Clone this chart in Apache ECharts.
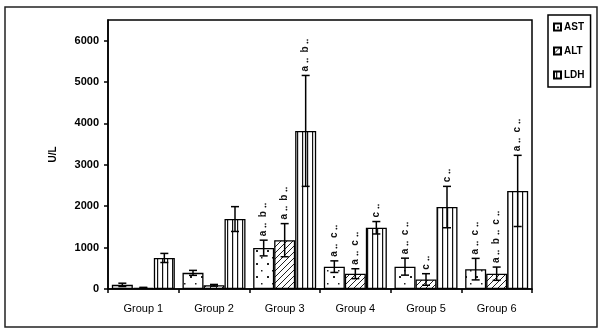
<!DOCTYPE html>
<html>
<head>
<meta charset="utf-8">
<script src="https://cdn.jsdelivr.net/npm/echarts@6/dist/echarts.min.js"></script>
<style>
  html, body { margin: 0; padding: 0; background: #fff; }
  #chart-container { width: 600px; height: 333px; }
</style>
</head>
<body>
<div id="chart-container"></div>
<script>
var groups = ['Group 1', 'Group 2', 'Group 3', 'Group 4', 'Group 5', 'Group 6'];
var yTicks = [0, 1000, 2000, 3000, 4000, 5000, 6000];

var ast = [100, 390, 990, 540, 540, 480];
var astSd = [40, 60, 190, 140, 205, 260];
var alt = [30, 90, 1180, 370, 230, 370];
var altSd = [10, 20, 400, 120, 140, 160];
var ldh = [750, 1690, 3820, 1480, 1980, 2370];
var ldhSd = [110, 300, 1340, 150, 500, 860];

var astMarks = ['', '', 'a ‥  b ‥', 'a ‥  c ‥', 'a ‥  c ‥', 'a ‥  c ‥'];
var altMarks = ['', '', 'a ‥  b ‥', 'a ‥  c ‥', 'c ‥', 'a ‥  b ‥  c ‥'];
var ldhMarks = ['', '', 'a ‥  b ‥', 'c ‥', 'c ‥', 'a ‥  c ‥'];

function pattern(kind) {
    var c = document.createElement('canvas');
    var ctx = c.getContext('2d');
    if (kind === 'dots') {
        c.width = 11; c.height = 13;
        ctx.fillStyle = '#fff'; ctx.fillRect(0, 0, 11, 13);
        ctx.fillStyle = '#222';
        ctx.fillRect(3, 3, 2, 2);
        ctx.fillRect(8, 10, 1.5, 1.5);
    } else if (kind === 'hatch') {
        c.width = 6; c.height = 6;
        ctx.fillStyle = '#fff'; ctx.fillRect(0, 0, 6, 6);
        ctx.strokeStyle = '#222'; ctx.lineWidth = 1;
        ctx.beginPath();
        ctx.moveTo(0, 6); ctx.lineTo(6, 0);
        ctx.moveTo(-1, 1); ctx.lineTo(1, -1);
        ctx.moveTo(5, 7); ctx.lineTo(7, 5);
        ctx.stroke();
    } else {
        c.width = 5; c.height = 4;
        ctx.fillStyle = '#fff'; ctx.fillRect(0, 0, 5, 4);
        ctx.fillStyle = '#111';
        ctx.fillRect(2, 0, 1.2, 4);
    }
    return { image: c, repeat: 'repeat' };
}

var BAR_W = 21;
var font = '"Liberation Sans", Arial, sans-serif';

function errSeries(name, idx, means, sds, marks) {
    var data = means.map(function (m, i) { return [i, m - sds[i], m + sds[i]]; });
    return {
        type: 'custom',
        name: name + ' err',
        z: 5,
        data: data,
        encode: { x: 0, y: [1, 2] },
        renderItem: function (params, api) {
            var lo = api.coord([api.value(0), api.value(1)]);
            var hi = api.coord([api.value(0), api.value(2)]);
            var x = lo[0] + (idx - 1) * BAR_W;
            var cap = 4;
            var st = { stroke: '#000', lineWidth: 1.5 };
            var children = [
                { type: 'line', shape: { x1: x, y1: lo[1], x2: x, y2: hi[1] }, style: st },
                { type: 'line', shape: { x1: x - cap, y1: hi[1], x2: x + cap, y2: hi[1] }, style: st },
                { type: 'line', shape: { x1: x - cap, y1: lo[1], x2: x + cap, y2: lo[1] }, style: st }
            ];
            var txt = marks[params.dataIndex];
            if (txt) {
                children.push({
                    type: 'text',
                    x: x,
                    y: hi[1] - 4,
                    rotation: Math.PI / 2,
                    style: {
                        text: txt,
                        fill: '#111',
                        font: 'bold 10px ' + font,
                        align: 'left',
                        verticalAlign: 'middle'
                    }
                });
            }
            return { type: 'group', children: children };
        }
    };
}

function barSeries(name, data, kind) {
    return {
        name: name,
        type: 'bar',
        data: data,
        barWidth: BAR_W,
        barGap: '0%',
        itemStyle: { color: pattern(kind), borderColor: '#000', borderWidth: 1.3 }
    };
}

var myChart = echarts.init(document.getElementById('chart-container'));

var option = {
    backgroundColor: '#fff',
    animation: false,
    graphic: [{
        type: 'rect',
        shape: { x: 5, y: 7, width: 592, height: 320 },
        style: { fill: 'none', stroke: '#222', lineWidth: 1.5 },
        silent: true
    }],
    legend: {
        data: ['AST', 'ALT', 'LDH'],
        orient: 'vertical',
        left: 548,
        top: 15,
        itemWidth: 7,
        itemHeight: 7,
        itemGap: 14,
        padding: [7, 6, 7, 5],
        borderColor: '#000',
        borderWidth: 1.5,
        icon: 'rect',
        textStyle: { fontFamily: font, fontSize: 10, fontWeight: 'bold', color: '#000', padding: [0, 0, 0, -2] }
    },
    grid: {
        left: 108, right: 68, top: 20, bottom: 44,
        show: true, borderColor: '#000', borderWidth: 1.5, backgroundColor: 'transparent'
    },
    xAxis: {
        type: 'category',
        data: groups,
        axisLine: { lineStyle: { color: '#000', width: 1.5 } },
        axisTick: { show: true, length: 4, lineStyle: { color: '#000', width: 1.5 } },
        axisLabel: { color: '#000', fontFamily: font, fontSize: 11, margin: 14 }
    },
    yAxis: {
        type: 'value',
        name: 'U/L',
        nameLocation: 'middle',
        nameGap: 50,
        nameTextStyle: { color: '#000', fontFamily: font, fontSize: 10, fontWeight: 'bold' },
        min: yTicks[0],
        max: 6500,
        interval: yTicks[1] - yTicks[0],
        splitLine: { show: false },
        axisLine: { show: true, lineStyle: { color: '#000', width: 1.5 } },
        axisTick: { show: true, length: 4, lineStyle: { color: '#000', width: 1.5 } },
        axisLabel: {
            color: '#000', fontFamily: font, fontSize: 11, fontWeight: 'bold', margin: 9,
            showMaxLabel: false,
            formatter: function (v) { return String(v); }
        }
    },
    series: [
        barSeries('AST', ast, 'dots'),
        barSeries('ALT', alt, 'hatch'),
        barSeries('LDH', ldh, 'lines'),
        errSeries('AST', 0, ast, astSd, astMarks),
        errSeries('ALT', 1, alt, altSd, altMarks),
        errSeries('LDH', 2, ldh, ldhSd, ldhMarks)
    ]
};

option && myChart.setOption(option);
</script>
</body>
</html>
